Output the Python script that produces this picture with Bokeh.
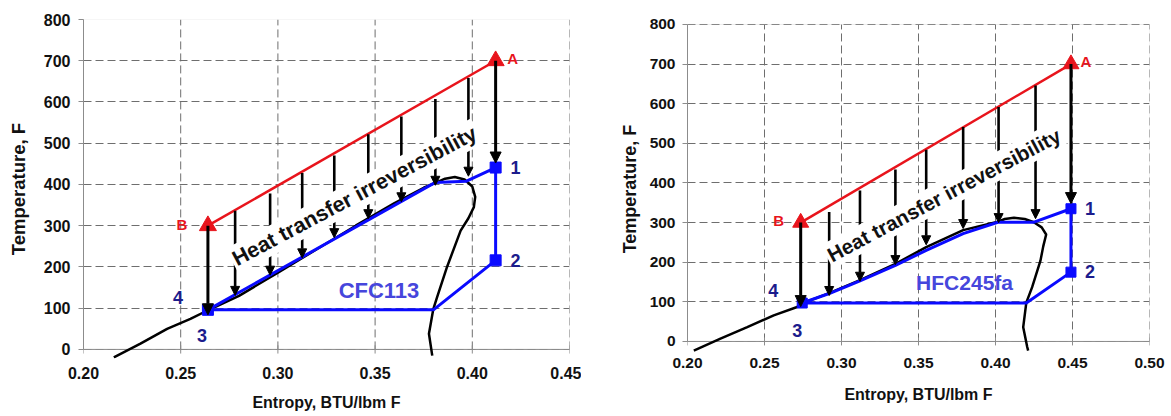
from bokeh.plotting import figure
from bokeh.models import (ColumnDataSource, FixedTicker, NumeralTickFormatter, Label,
                          Arrow, NormalHead, BoxAnnotation, Span)
from bokeh.layouts import row
from bokeh.embed import file_html
from bokeh.resources import INLINE
from bokeh.core.properties import value

FONT = "Liberation Sans"

# ---------------- shared axis data ----------------
y_ticks = [0, 100, 200, 300, 400, 500, 600, 700, 800]
y_tick_labels = ["0", "100", "200", "300", "400", "500", "600", "700", "800"]
x_title = "Entropy, BTU/lbm F"
y_title = "Temperature, F"
heat_text = "Heat transfer irreversibility"

# ---------------- CFC113 (left panel) ----------------
cfc_name = "CFC113"
cfc_x_ticks = [0.20, 0.25, 0.30, 0.35, 0.40, 0.45]
cfc_x_tick_labels = ["0.20", "0.25", "0.30", "0.35", "0.40", "0.45"]
cfc_dome_s = [0.2156, 0.2293, 0.2430, 0.2550, 0.2640, 0.280, 0.300, 0.320, 0.340, 0.360,
              0.375, 0.381, 0.386, 0.391, 0.396, 0.400, 0.4015, 0.4008, 0.398, 0.394,
              0.387, 0.3819, 0.3799, 0.3777, 0.3794]
cfc_dome_T = [-19, 14, 50, 74, 95, 130, 186, 243, 300, 355,
              392, 404, 414, 418, 412, 395, 370, 345, 318, 288,
              200, 127, 97, 38, -15]
cfc_cycle_s = [0.412, 0.412, 0.380, 0.264, 0.264, 0.381, 0.397, 0.412]
cfc_cycle_T = [441, 216, 96, 96, 96, 405, 408, 441]
cfc_source_s = [0.264, 0.412]
cfc_source_T = [300, 700]
cfc_state_names = ["A", "B", "1", "2", "3", "4"]
cfc_state_s = [0.412, 0.264, 0.412, 0.412, 0.264, 0.264]
cfc_state_T = [700, 300, 441, 216, 96, 96]
cfc_arrow_s = [0.278, 0.296, 0.3125, 0.329, 0.3465, 0.3635, 0.381, 0.398]
cfc_arrow_top = [336, 378, 428, 470, 522, 565, 607, 658]
cfc_arrow_tip = [131, 180, 222, 271, 317, 358, 398, 420]
cfc_big_arrow_s = [0.412, 0.264]
cfc_big_arrow_top = [700, 300]
cfc_big_arrow_tip = [452, 84]

# ---------------- HFC245fa (right panel) ----------------
hfc_name = "HFC245fa"
hfc_x_ticks = [0.20, 0.25, 0.30, 0.35, 0.40, 0.45, 0.50]
hfc_x_tick_labels = ["0.20", "0.25", "0.30", "0.35", "0.40", "0.45", "0.50"]
hfc_dome_s = [0.2041, 0.2214, 0.2388, 0.2560, 0.2712, 0.2745, 0.292, 0.312, 0.335, 0.355,
              0.379, 0.4015, 0.406, 0.412, 0.419, 0.4249, 0.430, 0.4329, 0.4310, 0.4292,
              0.4238, 0.4200, 0.4180, 0.4206, 0.4212]
hfc_dome_T = [-23, 7, 36, 66, 87, 96, 122, 155, 196, 238,
              281, 302, 309, 312, 309, 301, 288, 270, 240, 204,
              137, 98, 36, -14, -23]
hfc_cycle_s = [0.449, 0.449, 0.420, 0.2745, 0.2745, 0.292, 0.312, 0.335, 0.355, 0.379,
               0.4015, 0.425, 0.449]
hfc_cycle_T = [335, 175, 97, 97, 97, 121, 153, 192, 230, 272,
               301, 301, 335]
hfc_source_s = [0.2735, 0.449]
hfc_source_T = [300, 700]
hfc_state_names = ["A", "B", "1", "2", "3", "4"]
hfc_state_s = [0.449, 0.2735, 0.449, 0.449, 0.2745, 0.2745]
hfc_state_T = [700, 300, 335, 175, 97, 97]
hfc_arrow_s = [0.292, 0.312, 0.335, 0.355, 0.379, 0.402, 0.426]
hfc_arrow_top = [327, 381, 434, 484, 541, 592, 646]
hfc_arrow_tip = [116, 152, 194, 244, 285, 300, 310]
hfc_big_arrow_s = [0.449, 0.2735]
hfc_big_arrow_top = [700, 300]
hfc_big_arrow_tip = [348, 88]

# ---------------- styles ----------------
RED = "#e8141c"
BLUE = "#0a0aff"
NAVY = "#1c1c8c"
NAME_BLUE = "#4646dc"
AXIS = "#8c8c8c"
BORDER = "#c4c4c4"
GRID = "#6e6e6e"
TXT = "#111111"

# both figures share the same vertical borders; each panel's own vertical
# placement comes from its y range.
left_layout = dict(width=581, height=416, mbl=83, mbr=12, mbt=19, mbb=58,
                   y_lo=-22, y_hi=800,
                   tick_len=10,
                   tick_fs="16px", title_fs="16px", ytitle_fs="18.5px",
                   xlab_so=8, xtitle_so=12, ylab_so=8, ytitle_so=12,
                   ab_fs="15px", num_fs="18px", name_fs="22px", heat_fs="21.5px",
                   tri=17, sq=11,
                   dx={"A": 17, "B": -26, "1": 20, "2": 20, "3": -6, "4": -30},
                   dy={"A": -2, "B": -1, "1": 0, "2": 0, "3": 26, "4": -12},
                   name_pos=(0.352, 143), heat_pos=(0.3395, 372), heat_angle=28)
right_layout = dict(width=589, height=416, mbl=106, mbr=21, mbt=19, mbb=58,
                    y_lo=-43, y_hi=812.6,
                    tick_len=10,
                    tick_fs="15.5px", title_fs="16px", ytitle_fs="18px",
                    xlab_so=-1, xtitle_so=15, ylab_so=7, ytitle_so=7,
                    ab_fs="15px", num_fs="18px", name_fs="21px", heat_fs="20.5px",
                    tri=16, sq=10,
                    dx={"A": 15, "B": -22, "1": 19, "2": 19, "3": -5, "4": -29},
                    dy={"A": -3, "B": -2, "1": 0, "2": -1, "3": 27, "4": -13},
                    name_pos=(0.3799, 150), heat_pos=(0.3665, 370), heat_angle=28)


def build(d, lay):
    xt = d["x_ticks"]
    p = figure(width=lay["width"], height=lay["height"],
               x_range=(xt[0], xt[-1]), y_range=(lay["y_lo"], lay["y_hi"]),
               min_border_left=lay["mbl"], min_border_right=lay["mbr"],
               min_border_top=lay["mbt"], min_border_bottom=lay["mbb"],
               output_backend="svg", toolbar_location=None)
    p.outline_line_color = None
    p.background_fill_color = "white"
    p.border_fill_color = "white"

    # x axis: labels under the frame, axis line drawn at T = 0
    xa = p.xaxis[0]
    xa.ticker = FixedTicker(ticks=xt)
    xa.formatter = NumeralTickFormatter(format="0.00")
    xa.major_label_overrides = {t: l for t, l in zip(xt, d["x_tick_labels"])}
    xa.axis_line_color = None
    xa.major_tick_line_color = None
    xa.major_tick_in = 0
    xa.major_tick_out = 0
    xa.minor_tick_line_color = None
    xa.major_label_standoff = lay["xlab_so"]
    xa.major_label_text_font = FONT
    xa.major_label_text_font_style = "bold"
    xa.major_label_text_font_size = lay["tick_fs"]
    xa.major_label_text_color = TXT
    xa.axis_label = x_title
    xa.axis_label_text_font = FONT
    xa.axis_label_text_font_style = "bold"
    xa.axis_label_text_font_size = lay["title_fs"]
    xa.axis_label_text_color = TXT
    xa.axis_label_standoff = lay["xtitle_so"]

    ya = p.yaxis[0]
    ya.ticker = FixedTicker(ticks=y_ticks)
    ya.major_label_overrides = {t: l for t, l in zip(y_ticks, y_tick_labels)}
    ya.bounds = (y_ticks[0], y_ticks[-1])
    ya.axis_line_color = AXIS
    ya.major_tick_line_color = AXIS
    ya.major_tick_in = 0
    ya.major_tick_out = 5
    ya.minor_tick_line_color = None
    ya.major_label_standoff = lay["ylab_so"]
    ya.major_label_text_font = FONT
    ya.major_label_text_font_style = "bold"
    ya.major_label_text_font_size = lay["tick_fs"]
    ya.major_label_text_color = TXT
    ya.axis_label = y_title
    ya.axis_label_text_font = FONT
    ya.axis_label_text_font_style = "bold"
    ya.axis_label_text_font_size = lay["ytitle_fs"]
    ya.axis_label_text_color = TXT
    ya.axis_label_standoff = lay["ytitle_so"]

    # grids and plot-area border
    p.xgrid.visible = False
    p.ygrid.grid_line_color = GRID
    p.ygrid.grid_line_dash = "8 4"
    p.ygrid.grid_line_width = 1
    n = len(xt)
    vg = p.segment(x0=xt, y0=[y_ticks[0]] * n, x1=xt, y1=[y_ticks[-1]] * n,
                   line_color=GRID, line_dash="8 4", line_width=1)
    vg.level = "underlay"
    p.add_layout(BoxAnnotation(left=xt[0], right=xt[-1], bottom=y_ticks[0], top=y_ticks[-1],
                               fill_color=None, line_color=BORDER, line_width=1,
                               level="underlay"))
    p.add_layout(Span(location=y_ticks[0], dimension="width", line_color=AXIS,
                      line_width=1, level="underlay"))
    tk = p.segment(x0=xt, y0=[y_ticks[0] + lay["tick_len"]] * n, x1=xt,
                   y1=[y_ticks[0] - lay["tick_len"]] * n, line_color=AXIS, line_width=1)
    tk.level = "underlay"

    # curves
    p.line(d["dome_s"], d["dome_T"], line_color="black", line_width=2.5)
    p.line(d["cycle_s"], d["cycle_T"], line_color=BLUE, line_width=3)
    p.line(d["source_s"], d["source_T"], line_color=RED, line_width=2.5)

    names = d["state_names"]
    ss, tt = d["state_s"], d["state_T"]
    tri_idx = [i for i, nm in enumerate(names) if nm in ("A", "B")]
    sq_idx = [i for i, nm in enumerate(names) if nm in ("1", "2", "3")]
    p.scatter([ss[i] for i in tri_idx], [tt[i] for i in tri_idx], marker="triangle",
              size=lay["tri"], fill_color=RED, line_color=RED)
    p.scatter([ss[i] for i in sq_idx], [tt[i] for i in sq_idx], marker="square",
              size=lay["sq"], fill_color=BLUE, line_color=BLUE)

    for i, nm in enumerate(names):
        is_ab = nm in ("A", "B")
        p.text(x=[ss[i]], y=[tt[i]], text=[nm], x_offset=lay["dx"][nm], y_offset=lay["dy"][nm],
               text_color=RED if is_ab else NAVY, text_font=value(FONT),
               text_font_style="bold",
               text_font_size=lay["ab_fs"] if is_ab else lay["num_fs"],
               text_align="center", text_baseline="middle")

    p.text(x=[lay["name_pos"][0]], y=[lay["name_pos"][1]], text=[d["name"]],
           text_color=NAME_BLUE, text_font=value(FONT), text_font_style="bold",
           text_font_size=lay["name_fs"], text_align="center", text_baseline="middle")

    # arrows
    small = ColumnDataSource(dict(x0=d["arrow_s"], y0=d["arrow_top"],
                                  x1=d["arrow_s"], y1=d["arrow_tip"]))
    p.add_layout(Arrow(end=NormalHead(size=9, fill_color="black", line_color="black",
                                      line_width=1),
                       x_start="x0", y_start="y0", x_end="x1", y_end="y1",
                       source=small, line_color="black", line_width=2.6))
    big = ColumnDataSource(dict(x0=d["big_s"], y0=d["big_top"],
                                x1=d["big_s"], y1=d["big_tip"]))
    p.add_layout(Arrow(end=NormalHead(size=11, fill_color="black", line_color="black",
                                      line_width=1),
                       x_start="x0", y_start="y0", x_end="x1", y_end="y1",
                       source=big, line_color="black", line_width=3))

    p.add_layout(Label(x=lay["heat_pos"][0], y=lay["heat_pos"][1], text=heat_text,
                       angle=lay["heat_angle"], angle_units="deg",
                       text_align="center", text_baseline="middle",
                       text_font=FONT, text_font_style="bold",
                       text_font_size=lay["heat_fs"], text_color=TXT,
                       background_fill_color="white", padding=2))
    return p


cfc = dict(name=cfc_name, x_ticks=cfc_x_ticks, x_tick_labels=cfc_x_tick_labels,
           dome_s=cfc_dome_s, dome_T=cfc_dome_T, cycle_s=cfc_cycle_s, cycle_T=cfc_cycle_T,
           source_s=cfc_source_s, source_T=cfc_source_T, state_names=cfc_state_names,
           state_s=cfc_state_s, state_T=cfc_state_T, arrow_s=cfc_arrow_s,
           arrow_top=cfc_arrow_top, arrow_tip=cfc_arrow_tip, big_s=cfc_big_arrow_s,
           big_top=cfc_big_arrow_top, big_tip=cfc_big_arrow_tip)
hfc = dict(name=hfc_name, x_ticks=hfc_x_ticks, x_tick_labels=hfc_x_tick_labels,
           dome_s=hfc_dome_s, dome_T=hfc_dome_T, cycle_s=hfc_cycle_s, cycle_T=hfc_cycle_T,
           source_s=hfc_source_s, source_T=hfc_source_T, state_names=hfc_state_names,
           state_s=hfc_state_s, state_T=hfc_state_T, arrow_s=hfc_arrow_s,
           arrow_top=hfc_arrow_top, arrow_tip=hfc_arrow_tip, big_s=hfc_big_arrow_s,
           big_top=hfc_big_arrow_top, big_tip=hfc_big_arrow_tip)

p_left = build(cfc, left_layout)
p_right = build(hfc, right_layout)
layout = row(p_left, p_right)

open("out.html", "w").write(file_html(layout, INLINE))
